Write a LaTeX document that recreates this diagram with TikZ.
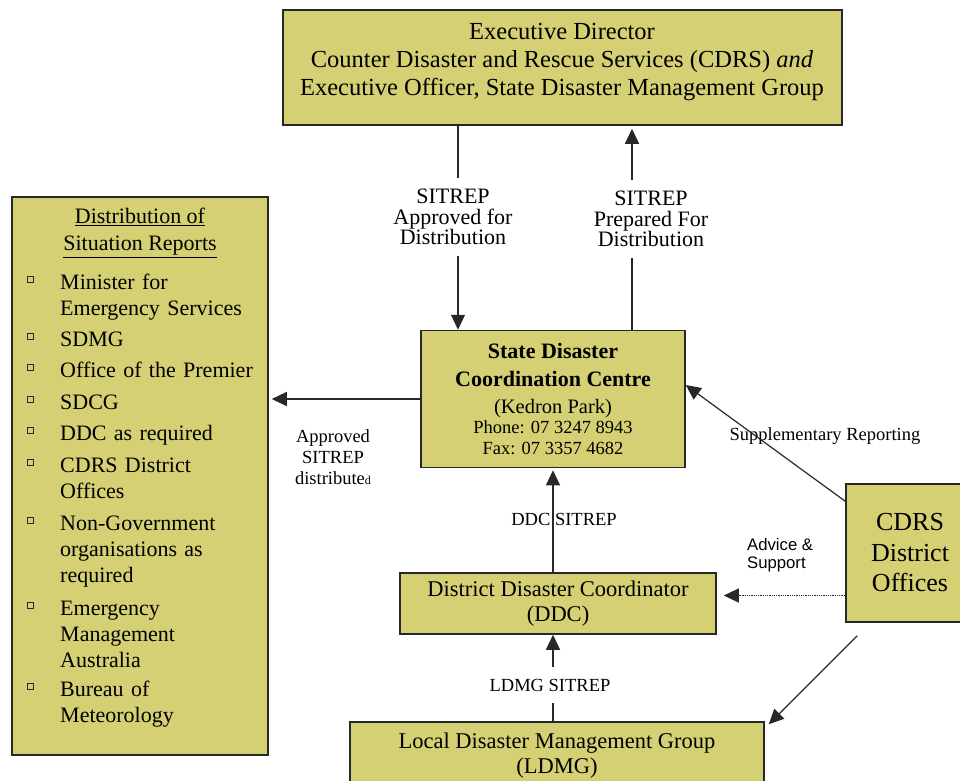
\documentclass[tikz,border=0pt]{standalone}
\usepackage{fontspec}
\setmainfont{Liberation Serif}
\newfontfamily\arialf{Liberation Sans}
\usetikzlibrary{arrows.meta}
\definecolor{boxfill}{RGB}{212,208,115}
\definecolor{edge}{RGB}{40,40,40}
\newcommand{\fs}[2]{\fontsize{#1}{#2}\selectfont}
\begin{document}
\begin{tikzpicture}[x=1pt,y=-1pt,
  box/.style={draw=edge, line width=1.5pt, fill=boxfill, inner sep=0pt, align=center},
  lbl/.style={inner sep=0pt, align=center, font=\fs{18.5}{21}},
  conn/.style={draw=edge, line width=1.2pt},
  arr/.style={conn, -{Triangle[length=15pt,width=14pt]}},
  dots/.style={dash pattern=on 1pt off 0.8pt, line width=1pt},
  ]
\useasboundingbox (0,0) rectangle (960,780);

% boxes
\node[box, minimum width=559pt, minimum height=115pt] (exec) at (562.5,67.5) {};
\node[inner sep=0pt, align=center, font=\fs{24.5}{28}] (exectxt) at (562,62)
  {Executive Director\\Counter Disaster and Rescue Services (CDRS) \textit{and}\\Executive Officer, State Disaster Management Group};

\node[box, minimum width=256pt, minimum height=558pt] (dist) at (140,476) {};
\node[inner sep=0pt, align=center, font=\fs{22}{27}] (disttitle) at (140,233)
  {\underline{Distribution of}\\\underline{Situation Reports}};
\foreach \yy/\tt [count=\i] in {289/{Minister for\\Emergency Services},346/{SDMG},377/{Office of the Premier},409/{SDCG},440/{DDC as required},472/{CDRS District\\Offices},530/{Non-Government\\organisations as\\required},615/{Emergency\\Management\\Australia},696/{Bureau of\\Meteorology}}{
  \node[inner sep=0pt, anchor=base west, text width=205pt, align=left, font=\fs{22}{26}] (item\i) at (60,\yy) {\tt};
  \draw[edge, line width=0.9pt] (27,\yy) ++(0,-13) rectangle ++(6,6);
}

\node[box, minimum width=264pt, minimum height=137pt, font=\fs{22}{20}] (sdcc) at (553,399)
  {\textbf{State Disaster}\\[8pt]\textbf{Coordination Centre}\\[7pt]{\fs{20.5}{20}(Kedron Park)}\\{\fs{18.5}{20}Phone: 07 3247 8943}\\[1pt]{\fs{18.5}{20}Fax: 07 3357 4682}};
\path[use as bounding box] (0,0) rectangle (960,780);

\node[box, minimum width=316pt, minimum height=61pt, font=\fs{22.5}{25}] (ddc) at (558,603.5)
  {District Disaster Coordinator\\(DDC)};
\node[box, minimum width=414pt, minimum height=67pt, font=\fs{22.5}{25}] (ldmg) at (557,755.5)
  {Local Disaster Management Group\\(LDMG)};
\node[box, minimum width=128pt, minimum height=138pt, font=\fs{26}{30.5}] (cdrs) at (910,553)
  {CDRS\\District\\Offices};

% labels
\node[lbl, font=\fs{22}{20.5}, inner ysep=11pt] (l1) at (453,217) {SITREP\\Approved for\\Distribution};
\node[lbl, font=\fs{22}{20.5}, inner ysep=11pt] (l2) at (651,219) {SITREP\\Prepared For\\Distribution};
\node[lbl] (l3) at (333,457) {Approved\\SITREP\\distribute{\fs{12}{12}d}};
\node[lbl] (l4) at (825,436) {Supplementary Reporting};
\node[lbl, font=\arialf\fs{16.7}{18.5}, align=left, anchor=west] (l5) at (747,555) {Advice \&\\Support};
\node[lbl, inner ysep=11.7pt] (l7) at (550,685) {LDMG SITREP};

% connectors
\coordinate (cx1) at (458,0);
\coordinate (cx2) at (632,0);
\coordinate (cx3) at (553,0);
\draw[conn] (exec.south -| cx1) -- (l1.north -| cx1);
\draw[arr] (l1.south -| cx1) -- (sdcc.north -| cx1);
\draw[conn] (sdcc.north -| cx2) -- (l2.south -| cx2);
\draw[arr, shorten >=3pt] (l2.north -| cx2) -- (exec.south -| cx2);
\draw[arr, shorten >=3pt] (sdcc.west) -- (sdcc.west -| dist.east);
\draw[arr] ([yshift=-18pt]cdrs.north west) -- ([yshift=14pt]sdcc.east);
\coordinate (c5) at ([yshift=-42.5pt]cdrs.west);
\draw[arr, dots, shorten >=7pt] (c5) -- (c5 -| ddc.east);
\draw[arr] ([shift={(12pt,-13pt)}]cdrs.south west) -- ([shift={(4pt,-3pt)}]ldmg.north east);
\draw[arr, shorten >=2pt] (ddc.north -| cx3) -- (sdcc.south -| cx3);
\node[lbl] (l6) at (564,519) {DDC SITREP};
\draw[conn] (ldmg.north -| cx3) -- (l7.south -| cx3);
\draw[arr] (l7.north -| cx3) -- (ddc.south -| cx3);
\end{tikzpicture}
\end{document}
